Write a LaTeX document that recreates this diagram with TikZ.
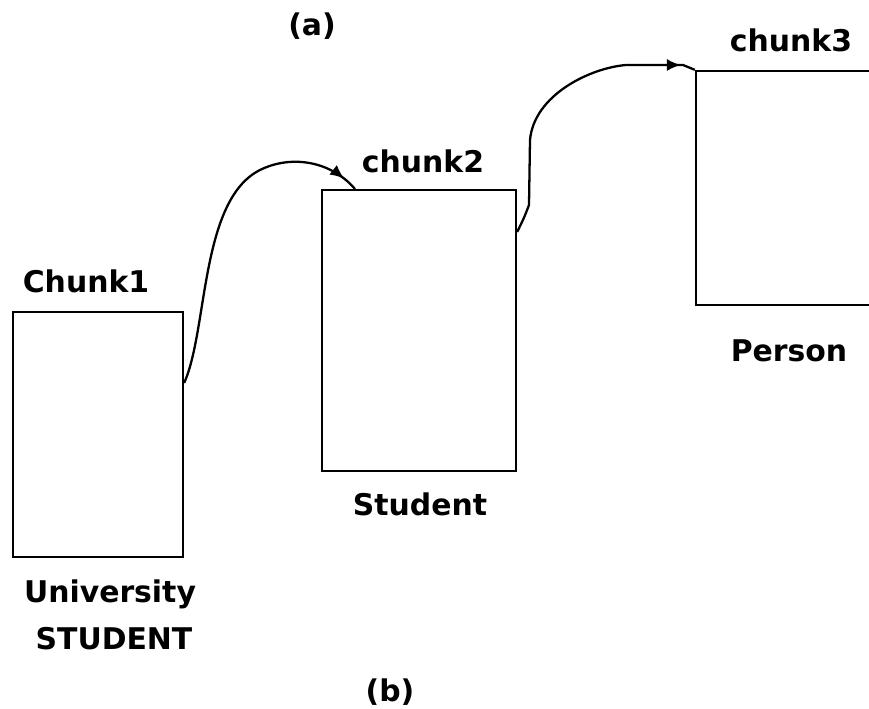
\documentclass[tikz,border=0pt]{standalone}
\usepackage{fontspec}
\setmainfont{DejaVu Sans}
\usetikzlibrary{arrows.meta}
\usetikzlibrary{decorations.markings}

\tikzset{
    chunkbox/.style={draw, line width=1.3pt, inner sep=0pt},
    chunklabel/.style={anchor=base, inner sep=0pt, font=\bfseries\fontsize{17}{20}\selectfont},
    link/.style={line width=1.3pt, line join=round,
        postaction={decorate, decoration={markings,
            mark=at position #1 with {\arrow{Latex[length=8pt,width=7pt]}}}}},
}

\begin{document}
\begin{tikzpicture}[x=0.02cm, y=-0.02cm]
        %% page frame (also cuts off the right end of the third box)
        \clip (0,0) rectangle (869,709);

        %% boxes
        \node[chunkbox, minimum width=170*0.02cm, minimum height=245*0.02cm] (box1) at (98,434.5) {};
        \node[chunkbox, minimum width=194*0.02cm, minimum height=281*0.02cm] (box2) at (419,330.5) {};
        \node[chunkbox, minimum width=300*0.02cm, minimum height=234*0.02cm] (box3) at (846,188) {};

        %% labels
        \node[chunklabel] (ttla) at (312,36) {(a)};
        \node[chunklabel] (ttlb) at (390,701) {(b)};

        \node[chunklabel] (name1) at (86,293) {Chunk1};
        \node[chunklabel] (name2) at (423,173) {chunk2};
        \node[chunklabel] (name3) at (791,52) {chunk3};

        \node[chunklabel] (kind1) at (110,602) {University};
        \node[chunklabel] (kind1b) at (114,649) {STUDENT};
        \node[chunklabel] (kind2) at (420,515) {Student};
        \node[chunklabel] (kind3) at (789,362) {Person};

        %% ends of the links on the box edges
        \coordinate (out1) at (box1.north east |- 0,383);
        \coordinate (in2) at (355,189);
        \coordinate (out2) at (box2.north east |- 0,232);
        \coordinate (in3) at (box3.north west);

        %% links
        \draw[link=-0.3cm] (out1) .. controls (208,330) and (200,200) .. (260,170)
            .. controls (290,155) and (330,160) .. (in2);
        \draw[link=-0.3cm] (out2) .. controls (524,218) .. (529,205) -- (530,140)
            .. controls (534,95) and (590,68) .. (626,65) -- (683,65) -- (in3);
    \end{tikzpicture}
\end{document}
